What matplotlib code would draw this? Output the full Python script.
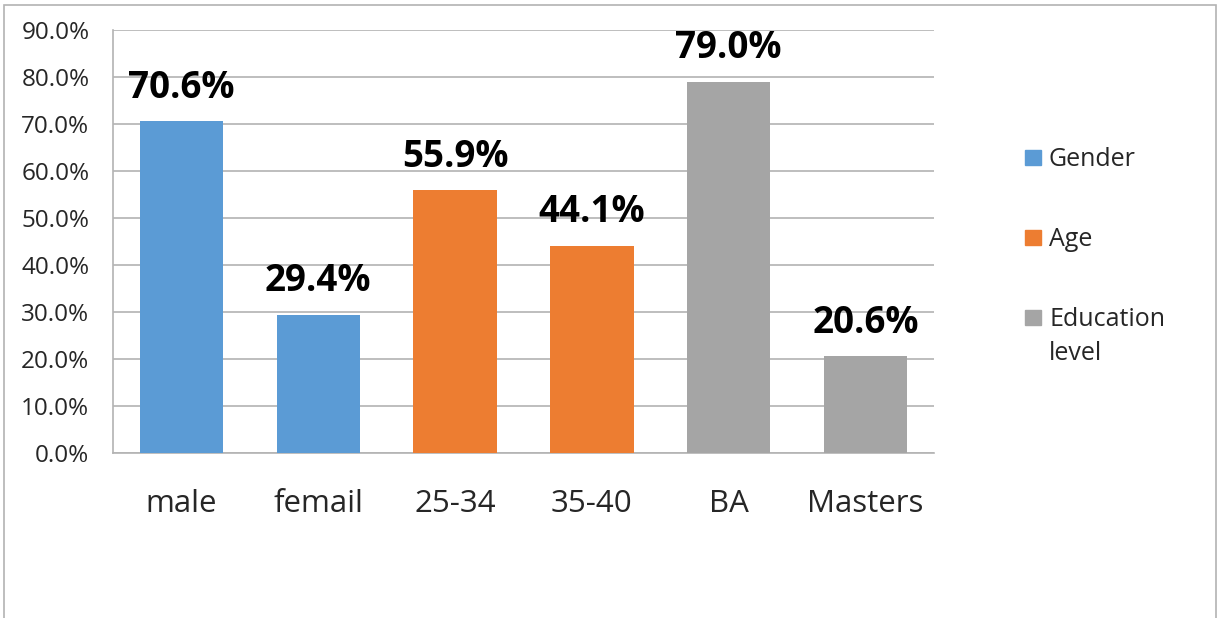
import matplotlib
matplotlib.use('Agg')
from matplotlib import pyplot as plt
from matplotlib.patches import Rectangle
from matplotlib.ticker import FuncFormatter
import numpy as np

categories = ['male', 'femail', '25-34', '35-40', 'BA', 'Masters']
values = [70.6, 29.4, 55.9, 44.1, 79.0, 20.6]
groups = ['Gender', 'Gender', 'Age', 'Age', 'Education\nlevel', 'Education\nlevel']
group_names = ['Gender', 'Age', 'Education\nlevel']
group_colors = {'Gender': '#5B9BD5', 'Age': '#ED7D31', 'Education\nlevel': '#A5A5A5'}

plt.rcParams['font.family'] = ['Open Sans', 'DejaVu Sans']

W, H = 1220, 618
fig = plt.figure(figsize=(W / 100, H / 100), dpi=100)
ax = fig.add_axes([113 / W, 1 - 453 / H, (934 - 113) / W, (453 - 30) / H])

x = np.arange(len(categories))
colors = [group_colors[g] for g in groups]
ax.bar(x, values, width=0.61, color=colors, zorder=3)

# value labels sit a fixed distance above each bar
for xi, v in zip(x, values):
    ax.annotate('%.1f%%' % v, (xi, v), xytext=(0, 17), textcoords='offset points',
                ha='center', va='baseline', fontsize=26.5, fontweight='bold', color='black')

ax.set_xlim(-0.5, len(categories) - 0.5)
ax.set_ylim(0, 90)
ax.set_yticks(np.arange(0, 91, 10))
ax.yaxis.set_major_formatter(FuncFormatter(lambda v, p: '%.1f%%' % v))
ax.set_xticks(x)
ax.set_xticklabels(categories, fontsize=22.5)
ax.tick_params(axis='y', labelsize=17.5, length=0, pad=17, colors='#262626')
ax.tick_params(axis='x', length=0, pad=26, colors='#262626')
ax.grid(axis='y', color='#b3b3b3', linewidth=1.2, zorder=0)

for s in ['top', 'right']:
    ax.spines[s].set_visible(False)
ax.spines['left'].set_color('#b3b3b3')
ax.spines['bottom'].set_color('#b3b3b3')
ax.spines['left'].set_linewidth(1.2)
ax.spines['bottom'].set_linewidth(1.2)

# legend drawn by hand so the swatch lines up with the first text line
legend_baselines = [166, 246, 326]
line_step = 34
for g, yb in zip(group_names, legend_baselines):
    fig.patches.append(Rectangle((1025 / W, 1 - (yb - 1) / H), 16 / W, 15 / H,
                                 transform=fig.transFigure, color=group_colors[g]))
    for k, line in enumerate(g.split('\n')):
        fig.text(1049 / W, 1 - (yb + k * line_step) / H, line, fontsize=18,
                 color='#262626', ha='left', va='baseline')

fig.patches.append(Rectangle((0.0035, -0.05), 0.9935, 1.042, transform=fig.transFigure,
                             fill=False, edgecolor='#b3b3b3', linewidth=1.2))

fig.savefig('out.png', dpi=100)
